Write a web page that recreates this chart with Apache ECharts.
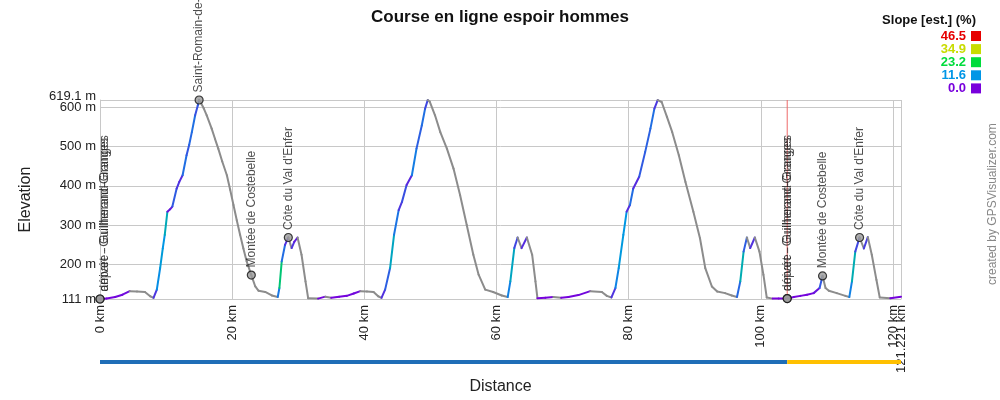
<!DOCTYPE html>
<html><head><meta charset="utf-8">
<script src="https://cdn.jsdelivr.net/npm/echarts@6/dist/echarts.min.js"></script>
<style>html,body{margin:0;padding:0;background:#fff}#c{width:1000px;height:400px}</style>
</head><body><div id="c"></div>
<script>
// ---- data ----
const distanceKm = [0.0,1.0,2.3,3.4,4.5,5.6,6.8,7.6,8.1,8.6,9.1,9.5,9.8,10.2,10.6,10.95,11.6,12.0,12.5,13.1,13.5,13.9,14.4,14.8,15.0,15.2,15.7,16.15,16.9,17.4,17.9,18.5,19.2,19.7,20.2,20.7,21.2,21.7,22.2,22.9,23.5,24.0,25.0,26.0,26.9,27.15,27.5,28.0,28.5,29.0,29.4,29.9,30.5,31.1,31.5,33.0,34.1,35.0,36.2,37.35,38.4,39.4,40.4,41.4,42.1,42.6,43.15,43.9,44.5,45.2,45.7,46.4,47.2,47.9,48.7,49.2,49.6,49.9,50.7,51.5,52.5,53.5,54.5,55.5,56.5,57.3,58.3,59.5,60.8,61.7,62.1,62.7,63.2,63.8,64.6,65.4,65.9,66.2,67.4,68.6,69.8,70.9,72.4,74.2,75.95,76.7,77.4,78.0,78.5,79.2,79.7,80.2,80.7,81.6,82.5,83.3,83.9,84.4,85.0,85.8,86.6,87.6,88.6,89.8,90.8,91.6,92.6,93.4,94.6,95.6,96.4,96.9,97.4,97.9,98.4,99.1,99.8,100.4,100.9,101.8,102.7,104.0,105.0,106.0,107.0,108.0,108.9,109.35,109.8,110.3,111.5,112.8,113.4,113.8,114.3,114.95,115.6,116.2,116.8,117.5,118.0,119.6,121.221];
const elevationM = [111,112,116,122,131,130,129,118,114,135,190,240,275,334,340,347,393,410,427,478,505,537,580,605,619.1,614,598,580,546,520,495,462,427,390,351,312,275,240,207,172,143,132,129,120,116,139,207,249,268,241,257,268,224,156,113,112,117,114,117,119,125,131,130,129,118,114,135,190,275,338,359,402,427,495,554,597,619,615,580,537,495,444,376,300,224,173,135,129,120,116,156,241,268,241,268,224,156,113,114,116,114,116,121,131,129,119,115,139,190,275,334,351,393,423,486,546,597,619,614,576,537,478,410,334,266,190,143,130,126,120,116,156,232,268,241,268,232,173,115,112,112,112,116,119,122,126,139,170,139,132,126,119,116,156,232,268,240,269,224,160,115,113,117];

const waypointNames = ['départ - Guilherand-Granges','arrivée - Guilherand-Granges','Saint-Romain-de-Lerps','Montée de Costebelle','Côte du Val d\'Enfer','départ - Guilherand-Granges','arrivée - Guilherand-Granges','Montée de Costebelle','Côte du Val d\'Enfer'];
const waypointKm = [0.0,0.0,15.0,22.9,28.5,104.0,104.0,109.35,114.95];
const waypointElev = [111,111,619.1,172,268,112,112,170,268];

const xTickKm = [0,20,40,60,80,100,120];
const xEndKm = 121.221;
const yTickM = [111,200,300,400,500,600];
const yTopM = 619.1;

const slopeLegend = [46.5,34.9,23.2,11.6,0.0];
const slopeColors = ['#e60000','#c8dc00','#00dc3c','#0096e6','#7800dc'];
const descentColor = '#8c8c8c';

const trackStartKm = [0, 104.0];
const trackEndKm = [104.0, 121.221];
const trackColors = ['#1f6eb7','#ffc000'];
const lapMarkKm = 104.0;

// ---- build ----
const FONT = "'Liberation Sans', Arial, sans-serif";
const segs = [];
for (let i = 0; i < distanceKm.length - 1; i++) {
  const dd = (distanceKm[i+1] - distanceKm[i]) * 1000;
  const slope = (elevationM[i+1] - elevationM[i]) / dd * 100;
  segs.push([distanceKm[i], elevationM[i], distanceKm[i+1], elevationM[i+1], slope]);
}
const wpData = waypointNames.map((n, i) => {
  const item = {value:[waypointKm[i], waypointElev[i], n]};
  if (waypointKm[i] === 0) item.label = {offset:[0, 5]};
  return item;
});
const trackData = trackStartKm.map((s, i) => [s, trackEndKm[i], i]);

const graphics = [];
graphics.push({type:'text', x:976, y:20, style:{text:'Slope [est.] (%)', align:'right', verticalAlign:'middle', font:'bold 13px ' + FONT, fill:'#111'}});
slopeLegend.forEach((v, i) => {
  const cy = 36 + 13.1 * i;
  graphics.push({type:'text', x:966, y:cy, style:{text:v.toFixed(1), align:'right', verticalAlign:'middle', font:'bold 13px ' + FONT, fill:slopeColors[i]}});
  graphics.push({type:'rect', shape:{x:971, y:cy-5, width:10, height:10}, style:{fill:slopeColors[i]}});
});
graphics.push({type:'text', x:993, y:285, rotation:Math.PI/2, style:{text:'created by GPSVisualizer.com', align:'left', verticalAlign:'middle', font:'12px ' + FONT, fill:'#888'}});

const gridLine = {show:true, lineStyle:{color:'#c8c8c8', width:1}};
const xLabel = {rotate:90, margin:6, fontSize:13, color:'#222', formatter:v => v + ' km', showMinLabel:true, showMaxLabel:true};
const yLabel = {margin:4, fontSize:13, color:'#222', formatter:v => v + ' m', showMinLabel:true, showMaxLabel:true};

const chart = echarts.init(document.getElementById('c'), null, {renderer:'canvas'});
chart.setOption({
  animation:false,
  backgroundColor:'#fff',
  textStyle:{fontFamily:FONT},
  title:{text:'Course en ligne espoir hommes', left:'center', top:4, textStyle:{fontSize:17, fontWeight:'bold', color:'#111', fontFamily:FONT}},
  graphic:graphics,
  grid:[
    {left:100, right:99, top:100, bottom:101},
    {left:100, right:99, top:360, height:4}
  ],
  xAxis:[
    {type:'value', gridIndex:0, min:0, max:xEndKm, position:'bottom',
     name:'Distance', nameLocation:'middle', nameGap:80, nameTextStyle:{fontSize:16, color:'#222', fontFamily:FONT},
     axisLine:{show:true, lineStyle:{color:'#c8c8c8'}},
     axisTick:{show:false, customValues:xTickKm.concat([xEndKm])},
     axisLabel:Object.assign({customValues:xTickKm}, xLabel),
     splitLine:gridLine},
    {type:'value', gridIndex:1, min:0, max:xEndKm, show:false},
    {type:'value', gridIndex:0, min:0, max:xEndKm, position:'bottom', offset:0,
     axisLine:{show:false}, axisTick:{show:false, customValues:[xEndKm]}, splitLine:{show:false},
     axisLabel:Object.assign({customValues:[xEndKm]}, xLabel)}
  ],
  yAxis:[
    {type:'value', gridIndex:0, min:111, max:yTopM, position:'left',
     name:'Elevation', nameLocation:'middle', nameGap:66, nameRotate:90, nameTextStyle:{fontSize:16, color:'#222', fontFamily:FONT},
     axisLine:{show:true, lineStyle:{color:'#c8c8c8'}},
     axisTick:{show:false, customValues:yTickM.concat([yTopM])},
     axisLabel:Object.assign({customValues:yTickM}, yLabel),
     splitLine:gridLine},
    {type:'value', gridIndex:1, min:0, max:1, show:false},
    {type:'value', gridIndex:0, min:111, max:yTopM, position:'left', offset:0,
     axisLine:{show:false}, axisTick:{show:false, customValues:[yTopM]}, splitLine:{show:false},
     axisLabel:Object.assign({customValues:[yTopM], verticalAlign:'bottom', lineHeight:8}, yLabel)}
  ],
  visualMap:[{
    type:'continuous', show:false, seriesIndex:0, dimension:4, min:0, max:46.5,
    inRange:{color:slopeColors.slice().reverse()}
  }],
  series:[
    {type:'custom', xAxisIndex:0, yAxisIndex:0, data:segs, z:3,
     encode:{x:[0,2], y:[1,3]},
     renderItem:(params, api) => {
       const p0 = api.coord([api.value(0), api.value(1)]);
       const p1 = api.coord([api.value(2), api.value(3)]);
       const col = api.value(4) < 0 ? descentColor : api.visual('color');
       return {type:'line', shape:{x1:p0[0], y1:p0[1], x2:p1[0], y2:p1[1]},
               style:{stroke:col, lineWidth:2, lineCap:'round'}};
     }},
    {type:'line', xAxisIndex:0, yAxisIndex:0, z:2, silent:true, symbol:'none',
     data:[[lapMarkKm, 111], [lapMarkKm, yTopM]],
     lineStyle:{color:'#ee6a6a', width:1}},
    {type:'scatter', xAxisIndex:0, yAxisIndex:0, data:wpData, z:5,
     symbol:'circle', symbolSize:8,
     itemStyle:{color:'#9a9a9a', borderColor:'#111', borderWidth:1.2},
     label:{show:true, formatter:p => p.value[2], position:'top', distance:3, rotate:90,
            align:'left', verticalAlign:'middle', fontSize:12, color:'#222', fontFamily:FONT}},
    {type:'custom', xAxisIndex:1, yAxisIndex:1, data:trackData, silent:true,
     encode:{x:[0,1]},
     renderItem:(params, api) => {
       const a = api.coord([api.value(0), 1]);
       const b = api.coord([api.value(1), 0]);
       return {type:'rect', shape:{x:a[0], y:a[1], width:b[0]-a[0], height:b[1]-a[1]},
               style:{fill:trackColors[api.value(2)]}};
     }}
  ]
});
</script>
</body></html>
